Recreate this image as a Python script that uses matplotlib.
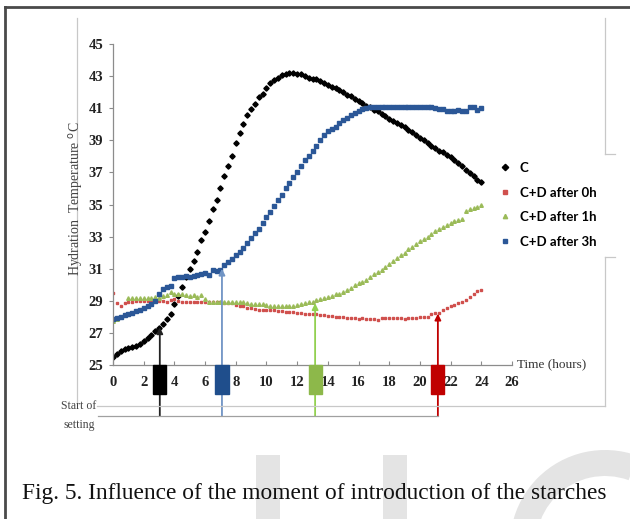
import numpy as np
import matplotlib
matplotlib.use("Agg")
from matplotlib import pyplot as plt
from matplotlib.lines import Line2D
from matplotlib.patches import Rectangle, Wedge

# time axis, one reading every 15 min
hours = np.arange(0, 24.01, 0.25)

temp_c = [25.5, 25.7, 25.9, 26.0, 26.05, 26.1, 26.2, 26.3, 26.5, 26.7, 26.85, 27.1,
          27.3, 27.55, 27.85, 28.2, 28.8, 29.3, 29.85, 30.5, 31.0, 31.5, 32.05, 32.8,
          33.3, 33.95, 34.7, 35.3, 36.05, 36.8, 37.4, 38.05, 38.85, 39.45, 40.0, 40.6,
          40.95, 41.25, 41.7, 41.9, 42.25, 42.55, 42.75, 42.9, 43.05, 43.15, 43.2, 43.2,
          43.15, 43.1, 43.0, 42.9, 42.85, 42.8, 42.7, 42.6, 42.45, 42.35, 42.25, 42.15,
          42.0, 41.85, 41.75, 41.6, 41.45, 41.3, 41.15, 41.05, 40.9, 40.8, 40.65, 40.5,
          40.35, 40.2, 40.05, 39.95, 39.8, 39.65, 39.5, 39.35, 39.15, 39.0, 38.85, 38.65,
          38.5, 38.35, 38.25, 38.1, 37.95, 37.8, 37.6, 37.4, 37.15, 36.95, 36.75, 36.55,
          36.4]

temp_0h = [29.5, 28.85, 28.7, 28.85, 28.9, 28.9, 29.0, 29.0, 29.0, 29.0, 29.05, 29.0,
           29.0, 29.0, 28.95, 29.05, 29.1, 29.0, 28.95, 28.95, 28.95, 28.95, 28.95, 28.95,
           28.9, 28.9, 28.95, 28.9, 28.9, 28.85, 28.85, 28.85, 28.75, 28.7, 28.7, 28.55,
           28.55, 28.5, 28.45, 28.45, 28.4, 28.4, 28.4, 28.35, 28.35, 28.3, 28.3, 28.3,
           28.25, 28.25, 28.2, 28.2, 28.2, 28.15, 28.1, 28.1, 28.05, 28.05, 28.0, 28.0,
           28.0, 27.95, 27.95, 27.9, 27.85, 27.9, 27.85, 27.85, 27.85, 27.8, 27.9, 27.9,
           27.9, 27.9, 27.9, 27.9, 27.85, 27.9, 27.95, 27.95, 28.0, 28.0, 28.0, 28.15,
           28.25, 28.25, 28.4, 28.55, 28.65, 28.75, 28.85, 28.95, 29.05, 29.25, 29.45, 29.6,
           29.7]

temp_1h = [27.75, 27.85, np.nan, np.nan, 29.2, 29.2, 29.15, 29.2, 29.2, 29.15, 29.2, 29.25,
           29.2, 29.3, 29.35, 29.55, 29.45, 29.4, 29.4, 29.35, 29.3, 29.35, 29.25, 29.35,
           29.1, 28.95, 28.9, 28.95, 28.9, 28.9, 28.9, 28.9, 28.9, 28.9, 28.9, 28.85,
           28.8, 28.8, 28.8, 28.8, 28.75, 28.7, 28.7, 28.7, 28.7, 28.7, 28.7, 28.7,
           28.75, 28.8, 28.85, 28.9, 28.95, 29.05, 29.1, 29.15, 29.25, 29.3, 29.4, 29.45,
           29.55, 29.65, 29.8, 30.0, 30.1, 30.2, 30.3, 30.5, 30.65, 30.8, 30.95, 31.1,
           31.3, 31.5, 31.65, 31.85, 32.0, 32.2, 32.35, 32.55, 32.7, 32.85, 33.0, 33.15,
           33.35, 33.5, 33.6, 33.75, 33.85, 33.95, 34.05, 34.1, 34.6, 34.75, 34.8, 34.85,
           34.95]

temp_3h = [27.85, 27.9, 28.0, 28.1, 28.15, 28.25, 28.35, 28.45, 28.55, 28.65, 28.8, 29.0,
           29.4, 29.75, 29.85, 29.95, 30.45, 30.5, 30.5, 30.55, 30.5, 30.55, 30.6, 30.7,
           30.75, 30.6, 30.9, 30.85, 30.95, 31.2, 31.4, 31.6, 31.85, 32.05, 32.3, 32.6,
           32.9, 33.2, 33.5, 33.85, 34.2, 34.55, 34.9, 35.25, 35.6, 36.0, 36.35, 36.7,
           37.0, 37.4, 37.75, 38.05, 38.35, 38.65, 39.0, 39.3, 39.6, 39.7, 39.85, 40.05,
           40.25, 40.4, 40.55, 40.7, 40.85, 40.95, 41.0, 41.05, 41.1, 41.1, 41.1, 41.1,
           41.1, 41.1, 41.1, 41.1, 41.1, 41.1, 41.1, 41.1, 41.1, 41.05, 41.05, 41.05,
           41.0, 40.95, 40.95, 40.85, 40.8, 40.85, 40.9, 40.8, 40.85, 41.05, 41.1, 40.9,
           41.0]

# start of setting markers: time (h) and temperature at the arrow tip
setting_time = [3.05, 7.1, 13.17, 21.17]
setting_temp = [27.35, 31.0, 28.85, 28.2]
arrow_colors = ["#222222", "#7094c4", "#92d050", "#c00000"]
box_colors = ["#000000", "#1f4e8c", "#8db84a", "#c00000"]

W, H = 630, 519
def fx(x):
    return x / W
def fy(y):
    return 1 - y / H

fig = plt.figure(figsize=(6.3, 5.19), dpi=100)
ax = fig.add_axes([fx(113), fy(365), (512 - 113) / W, (365 - 44) / H])

ax.plot(hours, temp_c, "D", color="black", ms=2.7, ls="none", label="C")
ax.plot(hours, temp_0h, "s", color="#d0504d", ms=2.1, ls="none", label="C+D after 0h")
ax.plot(hours, temp_1h, "^", color="#9bbb59", ms=2.6, ls="none", label="C+D after 1h")
ax.plot(hours, temp_3h, "s", color="#2b5797", ms=2.5, ls="none", label="C+D after 3h")

ax.set_xlim(0, 26)
ax.set_ylim(25, 45)
ax.set_xticks(range(0, 27, 2))
ax.set_yticks(range(25, 46, 2))
for s in ["top", "right"]:
    ax.spines[s].set_visible(False)
for s in ["left", "bottom"]:
    ax.spines[s].set_color("#8c8c8c")
    ax.spines[s].set_linewidth(0.9)
ax.tick_params(axis="y", direction="out", length=3, color="#8c8c8c", pad=4)
ax.tick_params(axis="x", direction="in", length=3, color="#8c8c8c", pad=8)
for lab in ax.get_xticklabels() + ax.get_yticklabels():
    lab.set_family("Liberation Serif")
    lab.set_fontsize(10.5)
    lab.set_fontweight("bold")
    lab.set_color("#222222")

ax.text(26.35, 25.05, "Time (hours)", family="Liberation Serif", fontsize=9.5,
        color="#333333", va="center", ha="left")
fig.text(fx(77), fy(199), "Hydration  Temperature $^{\\mathrm{o}}$C", rotation=90,
         family="Liberation Serif", fontsize=10, color="#444444", ha="center", va="center")

# arrows and boxes for the start of setting
y_base = 25 - (416 - 365) / 16.05
for t, T, ac, bc in zip(setting_time, setting_temp, arrow_colors, box_colors):
    ax.annotate("", xy=(t, T), xytext=(t, y_base), annotation_clip=False,
                arrowprops=dict(arrowstyle="-|>", color=ac, lw=1.3, mutation_scale=9,
                                shrinkA=0, shrinkB=0))
    ax.add_patch(Rectangle((t - 0.43, 23.2), 0.86, 1.78, facecolor=bc, edgecolor=bc,
                           clip_on=False, zorder=5))

leg = ax.legend(loc="upper left", bbox_to_anchor=(fx(500), fy(162)),
                bbox_transform=fig.transFigure, frameon=False, handlelength=0.8,
                handletextpad=0.7, labelspacing=0.95, borderpad=0, borderaxespad=0,
                prop={"family": "Lato", "size": 9.5, "weight": "bold"}, markerscale=1.2)

# chart frame lines
def hline(x0, x1, y, c="#c8c8c8", lw=0.9):
    fig.add_artist(Line2D([fx(x0), fx(x1)], [fy(y), fy(y)], transform=fig.transFigure,
                          color=c, lw=lw))
def vline(x, y0, y1, c="#c8c8c8", lw=0.9):
    fig.add_artist(Line2D([fx(x), fx(x)], [fy(y0), fy(y1)], transform=fig.transFigure,
                          color=c, lw=lw))

vline(77, 18, 405)
vline(605, 18, 154)
hline(605, 615, 154)
vline(605, 257, 406)
hline(605, 615, 257)
hline(97, 605, 406)
hline(98, 438, 416, c="#a0a0a0")
fig.text(fx(96), fy(406), "Start of", family="Liberation Serif", fontsize=8.5,
         color="#444444", ha="right", va="center")
fig.text(fx(95), fy(425), "setting", family="Liberation Serif", fontsize=8.5,
         color="#444444", ha="right", va="center")

# watermark behind caption
wm = "#e4e4e4"
fig.add_artist(Rectangle((fx(256), 0), 24 / W, (519 - 455) / H, transform=fig.transFigure,
                         facecolor=wm, edgecolor="none", zorder=0))
fig.add_artist(Rectangle((fx(383), 0), 24 / W, (519 - 455) / H, transform=fig.transFigure,
                         facecolor=wm, edgecolor="none", zorder=0))
ring = Wedge((605, 519 - 545), 95, 70, 200, width=26, transform=None,
             facecolor=wm, edgecolor="none", zorder=0)
fig.add_artist(ring)

# outer page frame
hline(5, 630, 7, c="#4a4a4a", lw=2)
vline(5, 7, 519, c="#4a4a4a", lw=2)

fig.text(fx(22), fy(493), "Fig. 5. Influence of the moment of introduction of the starches",
         family="Liberation Serif", fontsize=16.8, color="#111111", va="center", ha="left")

fig.savefig("out.png", dpi=100)
